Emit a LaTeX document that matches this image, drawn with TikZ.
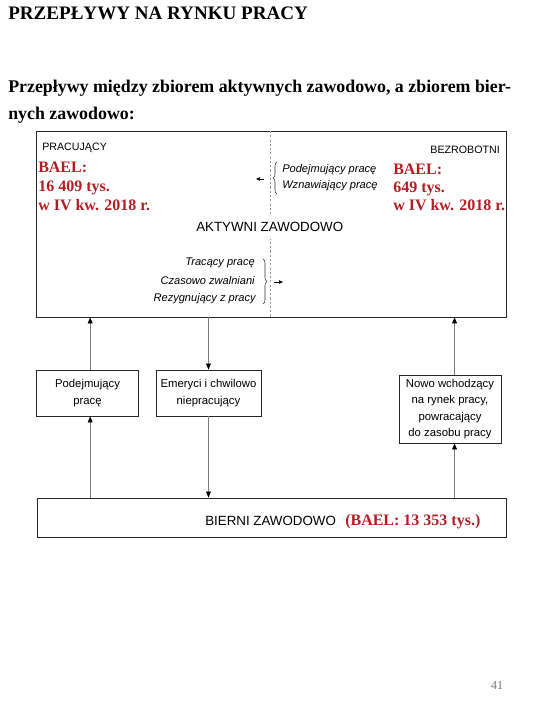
\documentclass[tikz,border=0pt]{standalone}
\usepackage{fontspec}
\setmainfont{Liberation Serif}
\setsansfont{Liberation Sans}
\usetikzlibrary{arrows.meta,decorations.pathreplacing}
\definecolor{baelred}{RGB}{180,30,35}
\definecolor{lin}{RGB}{125,125,125}
\begin{document}
\begin{tikzpicture}[x=0.75pt,y=-0.75pt,
  box/.style={draw=black!85, line width=0.6pt, inner sep=0pt, align=center,
    font=\sffamily\fontsize{8.5pt}{12.2pt}\selectfont},
  flow/.style={draw=lin, line width=0.5pt, -{Triangle[length=4.5pt,width=3.6pt,color=black]}},
  small/.style={draw=black, line width=0.45pt, -{Triangle[length=3pt,width=2.6pt]}},
  txt/.style={inner sep=0pt},
  baeltxt/.style={inner sep=0pt, text=baelred, font=\bfseries\fontsize{12pt}{14pt}\selectfont},
  lbl/.style={inner sep=0pt, font=\sffamily\fontsize{8pt}{10pt}\selectfont},
  itl/.style={inner sep=0pt, font=\sffamily\itshape\fontsize{8.3pt}{10pt}\selectfont},
  bracestyle/.style={draw=black!80, line width=0.4pt, decorate, decoration={brace, amplitude=3pt}}
]
\path[use as bounding box] (0,0) rectangle (540,720);

% headings
\node[txt, anchor=base west, font=\bfseries\fontsize{14.3pt}{17pt}\selectfont] (title) at (8,20) {PRZEPŁYWY NA RYNKU PRACY};
\node[txt, anchor=base west, font=\bfseries\fontsize{13.4pt}{16pt}\selectfont] (sub1) at (8,93) {Przepływy między zbiorem aktywnych zawodowo, a zbiorem bier-};
\node[txt, anchor=base west, font=\bfseries\fontsize{13.4pt}{16pt}\selectfont] (sub2) at (8,120) {nych zawodowo:};

% top box
\node[box, minimum width=352.5pt, minimum height=139.5pt] (akt) at (271,224) {};
\coordinate (dtop) at (270,131);
\coordinate (dbot) at (270,317);
\draw[draw=black!40, line width=0.6pt, dash pattern=on 1.6pt off 1.6pt] (dtop) -- (dbot);

\node[lbl, anchor=base west] (prac) at (42,151) {PRACUJĄCY};
\node[lbl, anchor=base east] (bezr) at (500,154) {BEZROBOTNI};

\node[baeltxt, anchor=base west] (bl1) at (38,173) {BAEL:};
\node[baeltxt, anchor=base west] (bl2) at (38,192) {16 409 tys.};
\node[baeltxt, anchor=base west] (bl3) at (38,211) {w IV kw. 2018 r.};
\node[baeltxt, anchor=base west] (br1) at (393,175) {BAEL:};
\node[baeltxt, anchor=base west] (br2) at (393,193) {649 tys.};
\node[baeltxt, anchor=base west] (br3) at (393,211) {w IV kw. 2018 r.};

\coordinate (bra1) at (277,194);
\coordinate (bra2) at (277,162);
\draw[bracestyle] (bra1) -- (bra2);
\node[itl, anchor=base west] (pp) at (282,173) {Podejmujący pracę};
\node[itl, anchor=base west] (wp) at (282,189) {Wznawiający pracę};
\coordinate (la1) at (264,179);
\coordinate (la2) at (256,179);
\draw[small] (la1) -- (la2);

\node[inner xsep=0pt, inner ysep=5pt, fill=white, anchor=base west, font=\sffamily\fontsize{10pt}{12pt}\selectfont] (aktlbl) at (196,232) {AKTYWNI ZAWODOWO};

\node[itl, anchor=base east] (tp) at (255,265) {Tracący pracę};
\node[itl, anchor=base east] (cz) at (255,284) {Czasowo zwalniani};
\node[itl, anchor=base east] (rz) at (256,301) {Rezygnujący z pracy};
\coordinate (brb1) at (263,259);
\coordinate (brb2) at (263,304);
\draw[bracestyle] (brb1) -- (brb2);
\coordinate (ra1) at (274,282);
\coordinate (ra2) at (283,282);
\draw[small] (ra1) -- (ra2);

% middle boxes
\node[box, minimum width=76.5pt, minimum height=34.5pt] (podej) at (87.5,393) {Podejmujący\\pracę};
\node[box, minimum width=78.75pt, minimum height=34.5pt] (emer) at (208.5,393) {Emeryci i chwilowo\\niepracujący};
\node[box, minimum width=76.5pt, minimum height=51pt] (nowo) at (450,409) {Nowo wchodzący\\na rynek pracy,\\powracający\\do zasobu pracy};

% bottom box
\node[box, minimum width=351.75pt, minimum height=29.25pt] (bier) at (271.5,517.5) {};
\node[txt, anchor=base west, font=\sffamily\fontsize{10pt}{12pt}\selectfont] (bierlbl) at (205,525) {BIERNI ZAWODOWO};
\node[baeltxt, anchor=base west] (bierbael) at (345,525) {(BAEL: 13 353 tys.)};

% connectors
\draw[flow] ([xshift=2pt]podej.north) -- ([xshift=2pt]podej.north |- akt.south);
\draw[flow] (emer.north |- akt.south) -- (emer.north);
\draw[flow] ([xshift=3.4pt]nowo.north) -- ([xshift=3.4pt]nowo.north |- akt.south);
\draw[flow] ([xshift=2pt]podej.south |- bier.north) -- ([xshift=2pt]podej.south);
\draw[flow] (emer.south) -- (emer.south |- bier.north);
\draw[flow] ([xshift=3.4pt]nowo.south |- bier.north) -- ([xshift=3.4pt]nowo.south);

% page number
\node[txt, anchor=base, text=black!55, font=\fontsize{9pt}{10pt}\selectfont] (pnum) at (497,689) {41};
\end{tikzpicture}
\end{document}
